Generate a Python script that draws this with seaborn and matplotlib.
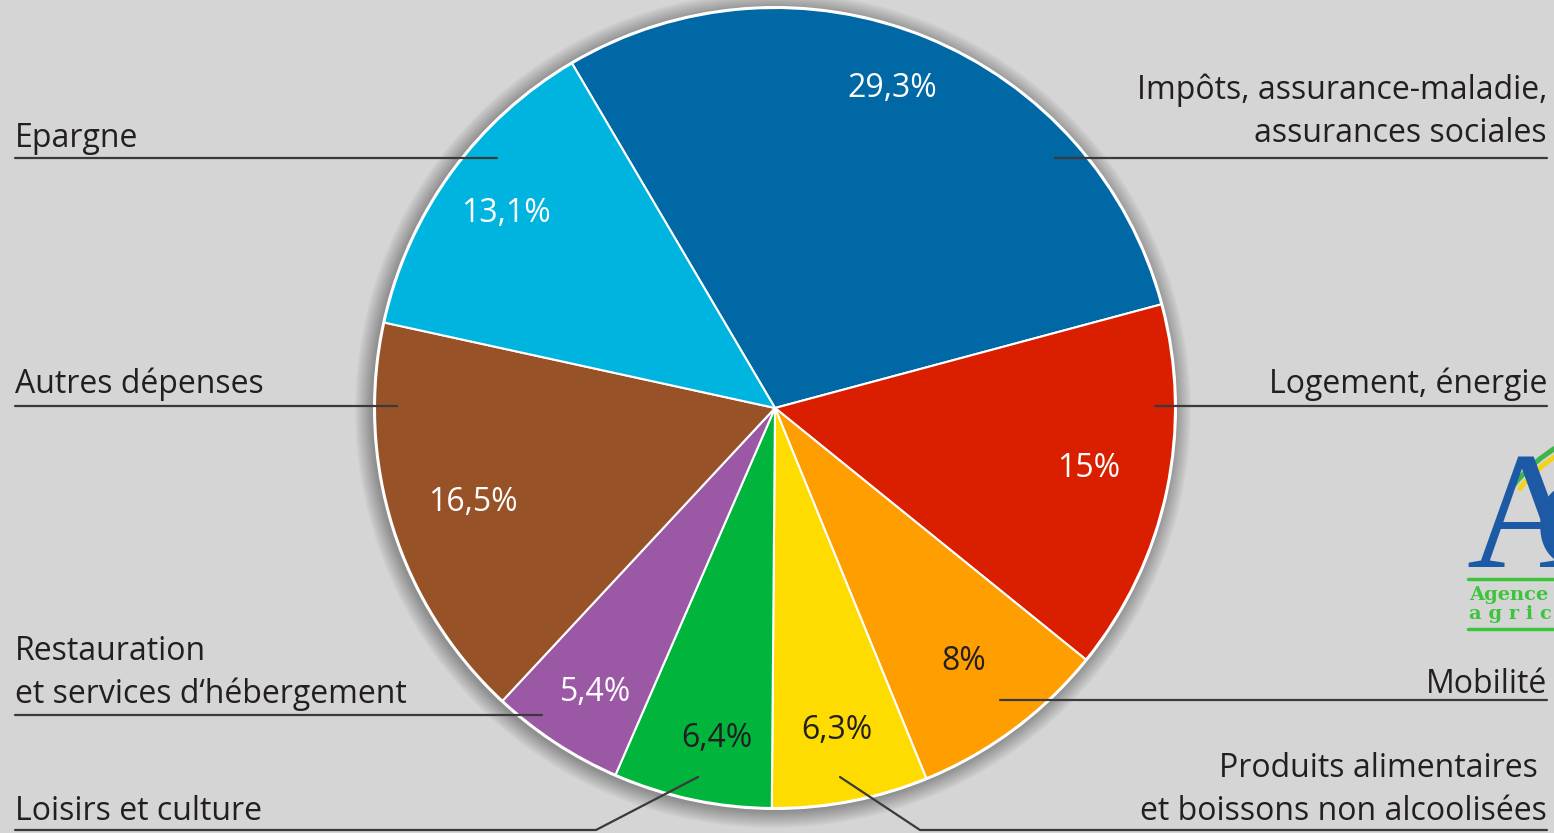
import matplotlib.pyplot as plt
import matplotlib.patches as mpatches
import numpy as np
import seaborn as sns

# budget shares (clockwise from the top-left edge of the blue slice)
categories = ["Impôts, assurance-maladie,\nassurances sociales", "Logement, énergie", "Mobilité",
              "Produits alimentaires\net boissons non alcoolisées", "Loisirs et culture",
              "Restauration\net services d‘hébergement", "Autres dépenses", "Epargne"]
shares = [29.3, 15.0, 8.0, 6.3, 6.4, 5.4, 16.5, 13.1]
pct_labels = ["29,3%", "15%", "8%", "6,3%", "6,4%", "5,4%", "16,5%", "13,1%"]
colors = ["#0068a5", "#d91f00", "#ff9e00", "#ffdc00", "#00b43c", "#9b58a5", "#985228", "#00b4e0"]

W, H = 1554, 833
BG = "#d5d5d5"
INK = "#231f20"
cx, cy, R = 775, 408, 400

# layout of the category labels, in pixels: (x, baseline of last line, ha, leader points)
label_layout = [
    (1547, 142, "right", [(1055, 158), (1547, 158)]),
    (1547, 393, "right", [(1155, 406), (1547, 406)]),
    (1547, 693, "right", [(1000, 700), (1547, 700)]),
    (1547, 820, "right", [(840, 777), (920, 830), (1547, 830)]),
    (15, 820, "left", [(698, 777), (596, 830), (15, 830)]),
    (15, 703, "left", [(542, 715), (15, 715)]),
    (15, 393, "left", [(397, 406), (15, 406)]),
    (15, 147, "left", [(497, 158), (15, 158)]),
]
pct_radius = [0.85, 0.80, 0.79, 0.82, 0.84, 0.84, 0.79, 0.83]
pct_shift = [-2.0, -1.0, 0.0, 0.0, -2.0, -1.0, 0.0, 0.0]
pct_dark = [False, False, True, True, True, False, False, False]

sns.set_theme(style="white")
plt.rcParams['font.family'] = ['Open Sans', 'DejaVu Sans']

fig = plt.figure(figsize=(W / 100, H / 100), dpi=100)
fig.patch.set_facecolor(BG)
ax = fig.add_axes([0, 0, 1, 1])
ax.set_facecolor(BG)

# soft shadow around the pie
for i in range(18, 0, -1):
    ax.add_patch(mpatches.Circle((cx - 2, cy + 2), R + i, facecolor="black", alpha=0.018,
                                 edgecolor="none", zorder=1))
ax.add_patch(mpatches.Circle((cx, cy), R + 2, facecolor="white", edgecolor="none", zorder=2))

wedges, _ = ax.pie(shares, colors=sns.color_palette(colors), startangle=239.5, counterclock=True,
                   center=(cx, cy), radius=R,
                   wedgeprops={"edgecolor": "white", "linewidth": 1.5})
for w in wedges:
    w.set_zorder(3)

for w, txt, rf, sh, dark in zip(wedges, pct_labels, pct_radius, pct_shift, pct_dark):
    mid = np.deg2rad((w.theta1 + w.theta2) / 2 + sh)
    ax.text(cx + rf * R * np.cos(mid), cy + rf * R * np.sin(mid), txt,
            ha="center", va="center", fontsize=23, color=INK if dark else "white", zorder=5)

for name, (x, base, ha, pts) in zip(categories, label_layout):
    lines = name.split("\n")
    for k, line in enumerate(lines):
        yy = base - (len(lines) - 1 - k) * 43
        xx = x - 9 if (ha == "right" and k == 0 and "Produits" in line) else x
        ax.text(xx, yy, line, ha=ha, va="baseline", fontsize=23, color=INK, zorder=5)
    xs, ys = zip(*pts)
    ax.plot(xs, ys, color="#3a3a3a", lw=1.6, solid_capstyle="round", zorder=4)

# partial logo at the right edge
ax.add_patch(mpatches.Arc((1640, 585), 322, 322, theta1=218, theta2=262, color="#3db54a", lw=3.6, zorder=4))
ax.add_patch(mpatches.Arc((1640, 585), 308, 308, theta1=218, theta2=262, color="#f2d21b", lw=3.6, zorder=4))
ax.text(1535, 567, "C", fontsize=92, family="Liberation Serif", color="#1d5aa6", va="baseline", zorder=5)
ax.text(1466, 567, "A", fontsize=120, family="Liberation Serif", color="#1d5aa6", va="baseline", zorder=5)
ax.plot([1468, 1554], [579, 579], color="#3cc43c", lw=2.5, zorder=5)
ax.plot([1468, 1554], [629, 629], color="#3cc43c", lw=2.5, zorder=5)
ax.text(1469, 600, "Agence d", fontsize=14, family="DejaVu Serif", weight="bold",
        color="#3cc43c", va="baseline", zorder=5)
ax.text(1469, 619, "a g r i c o l", fontsize=14, family="DejaVu Serif", weight="bold",
        color="#3cc43c", va="baseline", zorder=5)

ax.set_xlim(0, W)
ax.set_ylim(H, 0)
ax.set_aspect("equal")
ax.axis("off")

fig.savefig("out.png", dpi=100, facecolor=BG)
